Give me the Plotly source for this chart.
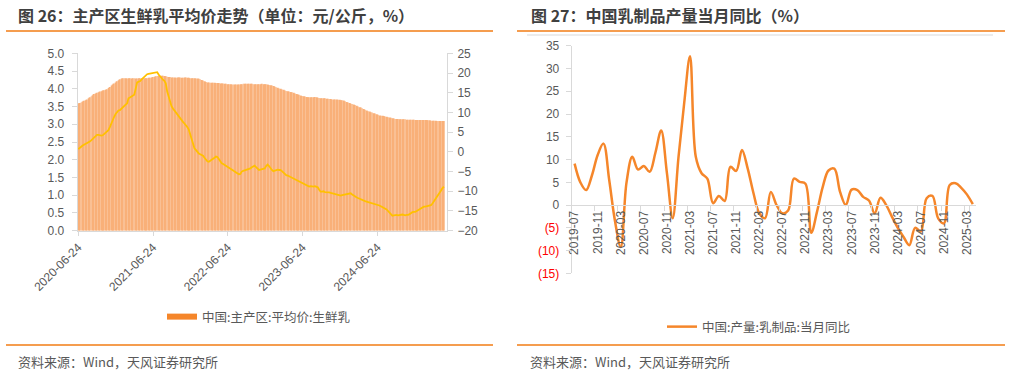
import plotly.graph_objects as go
import pandas as pd

# ---------------- Left chart data (weekly, from 2020-06-24) ----------------
price_dates = pd.date_range("2020-06-24", periods=256, freq="7D").strftime("%Y-%m-%d").tolist()

milk_price = [
    3.59, 3.60, 3.62, 3.64, 3.66, 3.68, 3.70, 3.73, 3.76, 3.79,
    3.82, 3.85, 3.87, 3.89, 3.90, 3.92, 3.93, 3.95, 3.96, 3.97,
    3.99, 4.02, 4.05, 4.09, 4.12, 4.15, 4.18, 4.21, 4.24, 4.27,
    4.29, 4.30, 4.30, 4.30, 4.29, 4.30, 4.30, 4.29, 4.30, 4.30,
    4.29, 4.29, 4.30, 4.30, 4.29, 4.30, 4.30, 4.30, 4.30, 4.31,
    4.31, 4.32, 4.33, 4.34, 4.35, 4.36, 4.37, 4.37, 4.37, 4.37,
    4.36, 4.35, 4.34, 4.33, 4.33, 4.32, 4.32, 4.32, 4.31, 4.32,
    4.32, 4.32, 4.31, 4.31, 4.32, 4.32, 4.31, 4.31, 4.30, 4.30,
    4.30, 4.30, 4.29, 4.29, 4.28, 4.27, 4.25, 4.23, 4.21, 4.19,
    4.18, 4.18, 4.17, 4.17, 4.17, 4.17, 4.16, 4.16, 4.16, 4.15,
    4.15, 4.15, 4.14, 4.14, 4.13, 4.13, 4.13, 4.12, 4.12, 4.12,
    4.12, 4.12, 4.12, 4.13, 4.13, 4.14, 4.14, 4.14, 4.14, 4.14,
    4.14, 4.14, 4.13, 4.13, 4.13, 4.13, 4.13, 4.13, 4.14, 4.13,
    4.13, 4.13, 4.12, 4.11, 4.10, 4.09, 4.08, 4.06, 4.04, 4.03,
    4.01, 4.00, 3.98, 3.97, 3.95, 3.94, 3.93, 3.92, 3.91, 3.90,
    3.89, 3.87, 3.85, 3.84, 3.83, 3.81, 3.80, 3.79, 3.78, 3.77,
    3.76, 3.76, 3.76, 3.76, 3.76, 3.77, 3.76, 3.75, 3.74, 3.73,
    3.73, 3.73, 3.73, 3.72, 3.72, 3.71, 3.71, 3.70, 3.70, 3.70,
    3.70, 3.69, 3.69, 3.68, 3.68, 3.67, 3.65, 3.63, 3.61, 3.60,
    3.58, 3.57, 3.56, 3.54, 3.52, 3.50, 3.48, 3.47, 3.45, 3.43,
    3.41, 3.39, 3.37, 3.36, 3.34, 3.33, 3.31, 3.30, 3.28, 3.27,
    3.25, 3.24, 3.24, 3.23, 3.22, 3.21, 3.20, 3.19, 3.18, 3.17,
    3.16, 3.15, 3.15, 3.15, 3.14, 3.14, 3.14, 3.14, 3.14, 3.13,
    3.13, 3.13, 3.13, 3.13, 3.13, 3.12, 3.12, 3.12, 3.12, 3.12,
    3.12, 3.12, 3.12, 3.12, 3.11, 3.11, 3.10, 3.10, 3.10, 3.10,
    3.09, 3.09, 3.09, 3.09, 3.09, 3.09,
]

milk_price_yoy = [
    0.7, 0.9, 1.3, 1.6, 1.8, 2.0, 2.1, 2.2, 2.6, 2.9,
    3.3, 3.7, 4.1, 4.3, 4.3, 4.2, 4.1, 4.2, 4.5, 4.7,
    5.1, 5.5, 6.3, 7.3, 8.3, 8.9, 9.6, 10.2, 10.5, 10.6,
    11.0, 11.3, 11.6, 12.0, 12.3, 13.6, 13.8, 14.0, 14.2, 14.5,
    16.0, 17.6, 17.8, 17.9, 18.3, 18.7, 19.0, 19.4, 19.7, 19.8,
    19.9, 19.9, 20.0, 20.1, 20.2, 20.2, 19.6, 19.1, 18.7, 18.3,
    18.0, 17.4, 15.3, 13.8, 12.8, 11.6, 11.0, 10.5, 10.1, 9.5,
    8.9, 8.3, 7.8, 7.6, 7.2, 6.8, 6.3, 5.7, 4.5, 3.2,
    1.8, 0.9, 0.5, 0.0, -0.4, -0.6, -0.8, -1.0, -1.5, -2.0,
    -2.4, -2.5, -2.3, -2.1, -1.8, -1.5, -1.2, -1.3, -1.8, -2.5,
    -2.9, -3.1, -3.3, -3.5, -3.7, -4.0, -4.2, -4.5, -4.7, -5.0,
    -5.3, -5.5, -5.7, -5.6, -5.0, -4.8, -4.7, -4.6, -4.4, -4.3,
    -4.2, -3.9, -3.6, -3.5, -3.9, -4.3, -4.6, -4.5, -4.4, -4.3,
    -4.2, -3.6, -3.2, -3.6, -4.2, -4.6, -4.9, -4.8, -4.6, -4.5,
    -4.6, -4.6, -4.9, -5.3, -5.6, -5.9, -6.0, -6.2, -6.4, -6.6,
    -6.7, -6.9, -7.1, -7.3, -7.5, -7.7, -7.9, -8.2, -8.4, -8.6,
    -8.8, -8.8, -8.7, -8.8, -8.8, -8.7, -8.8, -9.0, -9.6, -10.1,
    -10.1, -10.0, -10.2, -10.2, -10.3, -10.3, -10.4, -10.5, -10.7, -10.8,
    -10.9, -11.0, -11.1, -11.1, -11.0, -10.9, -10.8, -10.7, -10.6, -10.5,
    -10.5, -10.8, -11.1, -11.3, -11.5, -11.7, -11.9, -12.0, -12.2, -12.3,
    -12.5, -12.6, -12.7, -12.9, -13.0, -13.1, -13.2, -13.3, -13.4, -13.5,
    -13.6, -13.8, -14.0, -14.2, -14.3, -14.6, -15.0, -15.4, -15.9, -16.2,
    -16.1, -16.0, -16.0, -16.1, -16.0, -16.0, -15.9, -16.0, -16.1, -16.0,
    -16.0, -15.8, -15.5, -15.3, -15.2, -15.2, -15.0, -14.8, -14.5, -14.2,
    -14.0, -13.9, -13.9, -13.8, -13.7, -13.6, -13.5, -13.1, -12.6, -12.1,
    -11.6, -11.0, -10.4, -9.8, -9.2, -8.8,
]

left_tick_dates = ["2020-06-24", "2021-06-24", "2022-06-24", "2023-06-24", "2024-06-24"]

# ---------------- Right chart data (monthly) ----------------
months = pd.date_range("2019-07-01", "2025-04-01", freq="MS").strftime("%Y-%m").tolist()

dairy_yoy = [
    9.1, 5.0, 3.3, 6.5, 11.0, 13.5, 5.5, -3.5, -9.2, 5.0,
    10.6, 7.8, 8.6, 7.3, 11.5, 16.4, 7.0, -2.9, 10.5, 22.5,
    32.7, 10.6, 7.0, 5.8, 0.4, 2.0, 0.9, 8.4, 7.5, 12.1,
    8.0, 2.6, -1.8, -2.9, 2.9, 0.0, -1.8, -1.2, 5.8, 5.1,
    4.7, -6.1, -1.5, 4.0, 7.6, 8.0, 2.9, 0.0, 3.4, 3.3,
    1.8, 1.0, -1.8, 1.6, 0.0, -2.6, -5.0, -7.0, -8.8, -5.0,
    -5.8, 1.5, 2.0, -2.9, -4.0, 4.4, 4.8, 3.8, 2.3, 0.2,
]
right_tick_months = months[::4]
right_y_ticks = [-15, -10, -5, 0, 5, 10, 15, 20, 25, 30, 35]
right_y_text = ['<span style="color:#FF0000">(15)</span>',
                '<span style="color:#FF0000">(10)</span>',
                '<span style="color:#FF0000">(5)</span>',
                "0", "5", "10", "15", "20", "25", "30", "35"]

# ---------------- Figure ----------------
W, H = 1011, 373
def px(x):
    return x / W
def py(y):
    return 1 - y / H

GRAY = "#595959"
AXIS = "#D9D9D9"
NUMFONT = "Liberation Sans, Arial, Noto Sans CJK SC"
CJK = "Noto Sans CJK SC, Liberation Sans"

fig = go.Figure()

fig.add_trace(go.Bar(
    x=price_dates, y=milk_price, xaxis="x", yaxis="y",
    marker=dict(color="#F9B079", line=dict(width=0)),
    showlegend=False, name="中国:主产区:平均价:生鲜乳",
))
fig.add_trace(go.Scatter(
    x=price_dates, y=milk_price_yoy, xaxis="x", yaxis="y2",
    mode="lines", line=dict(color="#FFC000", width=1.8),
    showlegend=False, name="同比",
))
# legend swatch for the bar series
fig.add_trace(go.Scatter(
    x=[None], y=[None], xaxis="x", yaxis="y", mode="lines",
    line=dict(color="#F5862A", width=6),
    name="中国:主产区:平均价:生鲜乳", legend="legend",
))
fig.add_trace(go.Scatter(
    x=months, y=dairy_yoy, xaxis="x3", yaxis="y3",
    mode="lines", line=dict(color="#F5862A", width=2.5, shape="spline", smoothing=1.0),
    name="中国:产量:乳制品:当月同比", legend="legend2",
))

tickfont = dict(family=NUMFONT, size=12, color=GRAY)
common = dict(showgrid=False, zeroline=False, showline=True, linecolor=AXIS,
              ticks="outside", tickcolor=AXIS, automargin=False, tickfont=tickfont)

fig.update_layout(
    width=W, height=H, autosize=False,
    margin=dict(l=0, r=0, t=0, b=0, autoexpand=False),
    paper_bgcolor="white", plot_bgcolor="white",
    bargap=0.35,
    xaxis=dict(
        domain=[px(77.7), px(447)], anchor="y", type="date",
        range=["2020-06-21", "2025-05-29"],
        tickvals=left_tick_dates, ticktext=left_tick_dates,
        tickangle=-45, ticklen=4, **common,
    ),
    yaxis=dict(
        domain=[py(230.7), py(53.3)], anchor="x", range=[0, 5], dtick=0.5,
        tickformat=".1f", ticklen=5, ticklabelstandoff=5, **common,
    ),
    yaxis2=dict(
        overlaying="y", side="right", anchor="x", range=[-20, 25], dtick=5,
        ticklen=5, ticklabelstandoff=2, **common,
    ),
    xaxis3=dict(
        domain=[px(571.7), px(975.7)], anchor="free", position=py(205.1),
        type="category", range=[-0.5, len(months) - 0.5],
        tickvals=right_tick_months, ticktext=right_tick_months,
        tickangle=-90, tickson="boundaries", ticklen=5, **common,
    ),
    yaxis3=dict(
        domain=[py(273.4), py(45.7)], anchor="x3", range=[-15, 35],
        tickvals=right_y_ticks, ticktext=right_y_text, ticklen=5,
        ticklabelstandoff=4, **common,
    ),
    legend=dict(
        x=px(162), y=py(317), xanchor="left", yanchor="middle",
        orientation="h", itemwidth=30,
        font=dict(family=CJK, size=12.5, color=GRAY), bgcolor="rgba(0,0,0,0)",
    ),
    legend2=dict(
        x=px(662), y=py(327), xanchor="left", yanchor="middle",
        orientation="h", itemwidth=30,
        font=dict(family=CJK, size=12.5, color=GRAY), bgcolor="rgba(0,0,0,0)",
    ),
)

# titles
fig.add_annotation(text="<b>图 26：主产区生鲜乳平均价走势（单位：元/公斤，%）</b>",
                   x=px(16), y=py(15), xref="paper", yref="paper",
                   xanchor="left", yanchor="middle", showarrow=False,
                   font=dict(family=CJK, size=16, color="#404040"))
fig.add_annotation(text="<b>图 27：中国乳制品产量当月同比（%）</b>",
                   x=px(529), y=py(15), xref="paper", yref="paper",
                   xanchor="left", yanchor="middle", showarrow=False,
                   font=dict(family=CJK, size=16, color="#404040"))
# footers
for fx in (16, 528):
    fig.add_annotation(text="资料来源：Wind，天风证券研究所",
                       x=px(fx), y=py(361), xref="paper", yref="paper",
                       xanchor="left", yanchor="middle", showarrow=False,
                       font=dict(family=CJK, size=13, color=GRAY))

ORANGE = "#F59D4F"
for (x0, x1) in ((6, 493), (517, 1005)):
    fig.add_shape(type="line", xref="paper", yref="paper",
                  x0=px(x0), x1=px(x1), y0=py(31), y1=py(31),
                  line=dict(color=ORANGE, width=2))
    fig.add_shape(type="line", xref="paper", yref="paper",
                  x0=px(x0), x1=px(x1), y0=py(345), y1=py(345),
                  line=dict(color=ORANGE, width=2))
fig.add_shape(type="line", xref="paper", yref="paper",
              x0=px(527), x1=px(993), y0=py(35), y1=py(35),
              line=dict(color=AXIS, width=1))

fig.write_html("out.html", include_plotlyjs=True,
               config={"displayModeBar": False},
               post_script="document.body.style.margin='0';document.body.style.overflow='hidden';")
